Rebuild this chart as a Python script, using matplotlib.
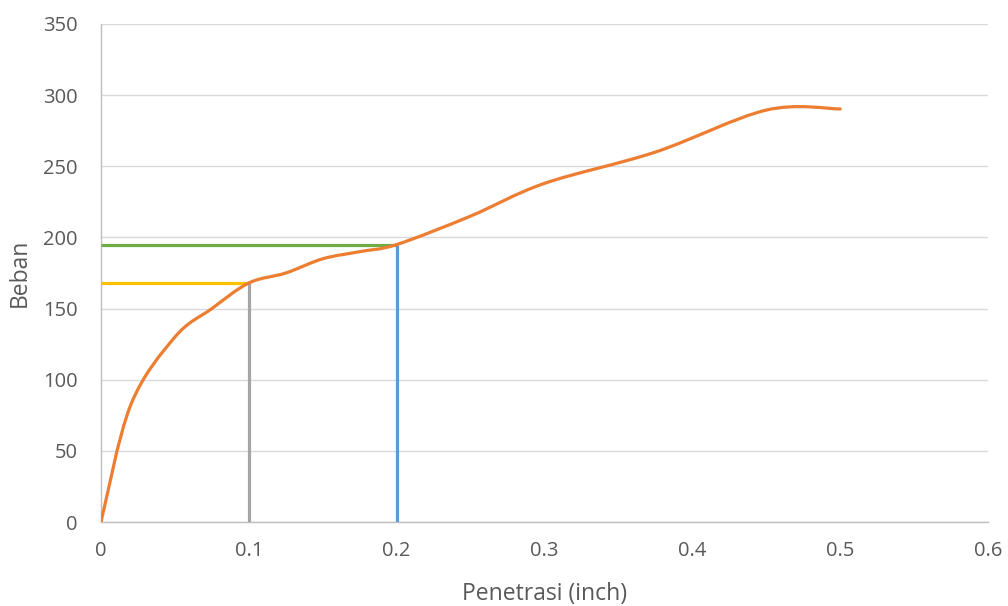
import matplotlib
matplotlib.use("Agg")
import matplotlib.pyplot as plt
from matplotlib.path import Path
from matplotlib.patches import PathPatch
import numpy as np

plt.rcParams["font.family"] = ["Open Sans", "DejaVu Sans"]

# data
penetrasi = [0, 0.02, 0.05, 0.075, 0.1, 0.125, 0.15, 0.175, 0.2, 0.25, 0.3, 0.375, 0.45, 0.5]
beban = [0, 82, 130, 150, 168, 175, 185, 190, 195, 215, 238, 260, 289.5, 290.3]

p01 = 0.1   # penetrasi 0.1 inch
b01 = 168
p02 = 0.2   # penetrasi 0.2 inch
b02 = 195

x_ticks = [0, 0.1, 0.2, 0.3, 0.4, 0.5, 0.6]
y_ticks = [0, 50, 100, 150, 200, 250, 300, 350]


def smooth_path(xs, ys):
    # excel style smoothed line: cubic bezier through every point
    pts = np.column_stack([xs, ys]).astype(float)
    n = len(pts)
    verts = [pts[0]]
    codes = [Path.MOVETO]
    for i in range(n - 1):
        p0 = pts[i - 1] if i > 0 else pts[i]
        p1 = pts[i]
        p2 = pts[i + 1]
        p3 = pts[i + 2] if i + 2 < n else pts[i + 1]
        c1 = p1 + (p2 - p0) / 6.0
        c2 = p2 - (p3 - p1) / 6.0
        verts += [c1, c2, p2]
        codes += [Path.CURVE4] * 3
    return Path(verts, codes)


fig = plt.figure(figsize=(10.08, 6.06), dpi=100)
ax = fig.add_axes([0.1002, 0.1386, 0.8800, 0.8218])

lw = 2.3
ax.plot([0, p01], [b01, b01], color="#FFC000", lw=lw, solid_capstyle="butt", zorder=3)
ax.plot([p01, p01], [0, b01], color="#A5A5A5", lw=lw, solid_capstyle="butt", zorder=3)
ax.plot([0, p02], [b02, b02], color="#70AD47", lw=lw, solid_capstyle="butt", zorder=3)
ax.plot([p02, p02], [0, b02], color="#5B9BD5", lw=lw, solid_capstyle="butt", zorder=3)

patch = PathPatch(smooth_path(penetrasi, beban), facecolor="none", edgecolor="#ED7D31",
                  lw=lw, capstyle="round", zorder=4)
ax.add_patch(patch)

ax.set_xlim(0, 0.6)
ax.set_ylim(0, 350)
ax.set_xticks(x_ticks)
ax.set_xticklabels([str(v) for v in x_ticks])
ax.set_yticks(y_ticks)
ax.grid(True, axis="y", color="#D9D9D9", lw=1)
ax.set_axisbelow(True)
ax.tick_params(length=0, labelsize=14.5, colors="#595959", pad=14)
ax.tick_params(axis="y", pad=17)

for s in ["top", "right"]:
    ax.spines[s].set_visible(False)
for s in ["left", "bottom"]:
    ax.spines[s].set_color("#BFBFBF")
    ax.spines[s].set_linewidth(1)

ax.set_xlabel("Penetrasi (inch)", fontsize=16.5, color="#595959", labelpad=15)
ax.set_ylabel("Beban", fontsize=16.5, color="#595959", labelpad=8)

fig.savefig("out.png", dpi=100)
